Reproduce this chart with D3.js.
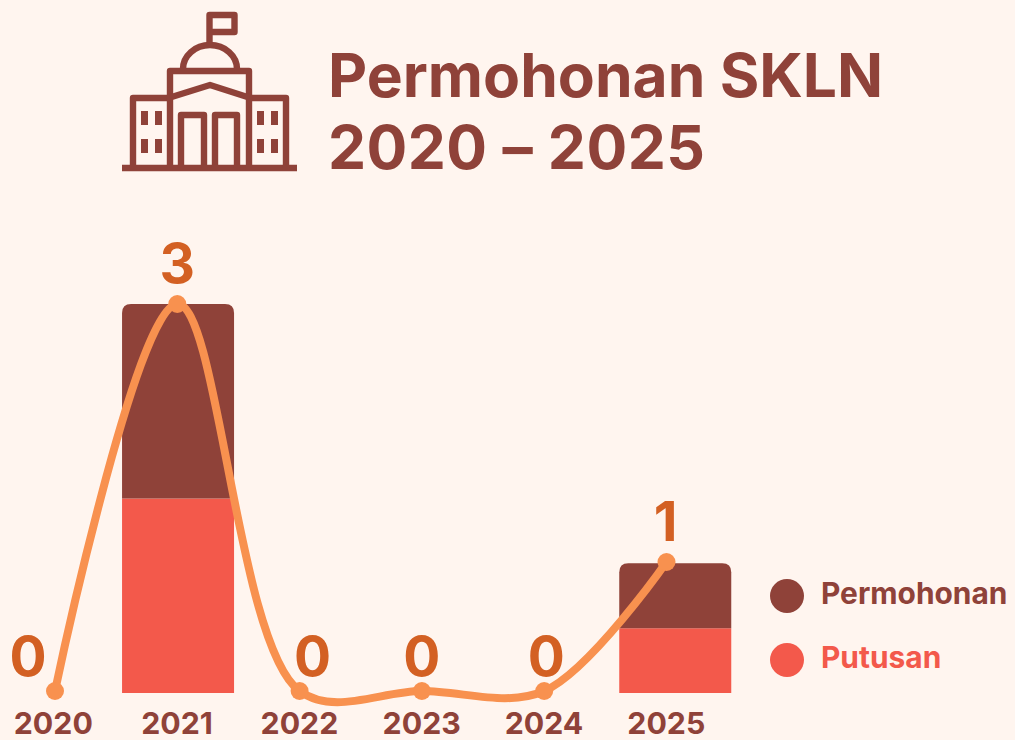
<!DOCTYPE html>
<html>
<head>
<meta charset="utf-8">
<script src="https://cdn.jsdelivr.net/npm/d3@7"></script>
<style>
	html, body { margin: 0; padding: 0; background: #fff5ef; overflow: hidden; }
	svg { display: block; font-family: Inter, sans-serif; }
</style>
</head>
<body>
<svg id="chart" width="1015" height="740"></svg>
<script>
const YEARS = ['2020', '2021', '2022', '2023', '2024', '2025'],
	PERMOHONAN = [0, 3, 0, 0, 0, 1],
	PUTUSAN = [0, 3, 0, 0, 0, 1],
	TOTAL_LINE = [0, 3, 0, 0, 0, 1],
	TITLE_LINES = ['Permohonan SKLN', '2020 – 2025'],
	LEGEND_LABELS = ['Permohonan', 'Putusan'];

const BROWN = '#8f4239',
	RED = '#f3594b',
	ORANGE = '#f8914f',
	LABEL_ORANGE = '#d36023',
	BAR_RADIUS = 9;

// value labels sit off the points in the reference, not centred on them
const LABEL_DX = [-27, 0, 13, 0, 2, -1];

const svg = d3.select('#chart');

// bars and line don't share an x or y scale in the reference
const xBar = d3.scalePoint().domain(YEARS).range([53.75, 675.25]),
	xLine = d3.scalePoint().domain(YEARS).range([55, 666.5]),
	yBar = d3.scaleLinear().domain([0, 6]).range([693, 304]),
	yLine = d3.scaleLinear().domain([0, 3]).range([691, 304]);

const BAR_WIDTH = 112;

// title
svg.append('g')
	.selectAll('text')
	.data(TITLE_LINES)
	.join('text')
	.attr('x', 328)
	.attr('y', (d, i) => 97 + i * 72)
	.attr('font-size', 60.5)
	.attr('font-weight', 700)
	.attr('letter-spacing', (d, i) => i === 1 ? 0.45 : 0)
	.attr('fill', BROWN)
	.text(d => d);

// building icon
const icon = svg.append('g')
	.attr('fill', 'none')
	.attr('stroke', BROWN)
	.attr('stroke-width', 6.4)
	.attr('stroke-linejoin', 'round');

icon.append('path').attr('d', 'M122,168H297');
icon.append('path').attr('d', 'M133,168V98H170M286,168V98H249');
icon.append('path').attr('d', 'M170,168V71H249V168');
icon.append('path').attr('d', 'M170,97.5L210,85L249,97.5');
icon.append('path').attr('d', 'M181,168V115H204V168M215,168V115H237V168');
icon.append('path').attr('d', 'M183,69A27,24 0 0 1 237,69');
icon.append('path').attr('d', 'M209.5,43V15H234.5V32H209.5');

[141, 155, 257, 271].forEach(x => {
	[111, 139].forEach(y => {
		svg.append('rect')
			.attr('x', x).attr('y', y)
			.attr('width', 7).attr('height', 14)
			.attr('fill', BROWN);
	});
});

// stacked bars
const stackRows = YEARS.map((year, i) => ({ year: year, putusan: PUTUSAN[i], permohonan: PERMOHONAN[i] })),
	stacked = d3.stack().keys(['putusan', 'permohonan'])(stackRows),
	barColors = { putusan: RED, permohonan: BROWN };

function roundedTop(x, y0, y1, w, r) {
	return 'M' + x + ',' + y0 +
		'V' + (y1 + r) +
		'Q' + x + ',' + y1 + ' ' + (x + r) + ',' + y1 +
		'H' + (x + w - r) +
		'Q' + (x + w) + ',' + y1 + ' ' + (x + w) + ',' + (y1 + r) +
		'V' + y0 + 'Z';
}

stacked.forEach(layer => {
	svg.append('g')
		.selectAll('path')
		.data(layer.filter(d => d[1] > d[0]))
		.join('path')
		.attr('fill', barColors[layer.key])
		.attr('d', d => {
			let x = xBar(d.data.year) - BAR_WIDTH / 2,
				r = layer.key === 'permohonan' ? BAR_RADIUS : 0;
			return roundedTop(x, yBar(d[0]), yBar(d[1]), BAR_WIDTH, r);
		});
});

// line
const line = d3.line()
	.x((d, i) => xLine(YEARS[i]))
	.y(d => yLine(d))
	.curve(d3.curveCatmullRom.alpha(0.5));

svg.append('path')
	.datum(TOTAL_LINE)
	.attr('fill', 'none')
	.attr('stroke', ORANGE)
	.attr('stroke-width', 8)
	.attr('d', line);

svg.append('g')
	.selectAll('circle')
	.data(TOTAL_LINE)
	.join('circle')
	.attr('cx', (d, i) => xLine(YEARS[i]))
	.attr('cy', d => yLine(d))
	.attr('r', 9)
	.attr('fill', ORANGE);

// value labels
svg.append('g')
	.selectAll('text')
	.data(TOTAL_LINE)
	.join('text')
	.attr('x', (d, i) => xLine(YEARS[i]) + LABEL_DX[i])
	.attr('y', d => yLine(d) - 15.5 - (d > 0 ? 5.5 : 0))
	.attr('text-anchor', 'middle')
	.attr('font-size', 55)
	.attr('font-weight', 700)
	.attr('fill', LABEL_ORANGE)
	.text(d => d);

// year axis
const xAxis = svg.append('g')
	.attr('transform', 'translate(-0.7,703)')
	.call(d3.axisBottom(xLine).tickSize(0).tickPadding(9));

xAxis.select('.domain').remove();
xAxis.selectAll('text')
	.attr('font-family', 'Inter, sans-serif')
	.attr('font-size', 30.3)
	.attr('font-weight', 700)
	.attr('fill', BROWN)
	.attr('dx', d => d === '2020' ? -1.5 : 0);

// legend
const legendY = d3.scalePoint().domain(LEGEND_LABELS).range([596, 660]),
	legendColors = d3.scaleOrdinal().domain(LEGEND_LABELS).range([BROWN, RED]);

const legend = svg.append('g')
	.selectAll('g')
	.data(LEGEND_LABELS)
	.join('g')
	.attr('transform', d => 'translate(787,' + legendY(d) + ')');

legend.append('circle')
	.attr('r', 17)
	.attr('fill', d => legendColors(d));

legend.append('text')
	.attr('x', 34)
	.attr('y', 8)
	.attr('font-size', 29.9)
	.attr('font-weight', 700)
	.attr('fill', d => legendColors(d))
	.text(d => d);
</script>
</body>
</html>
